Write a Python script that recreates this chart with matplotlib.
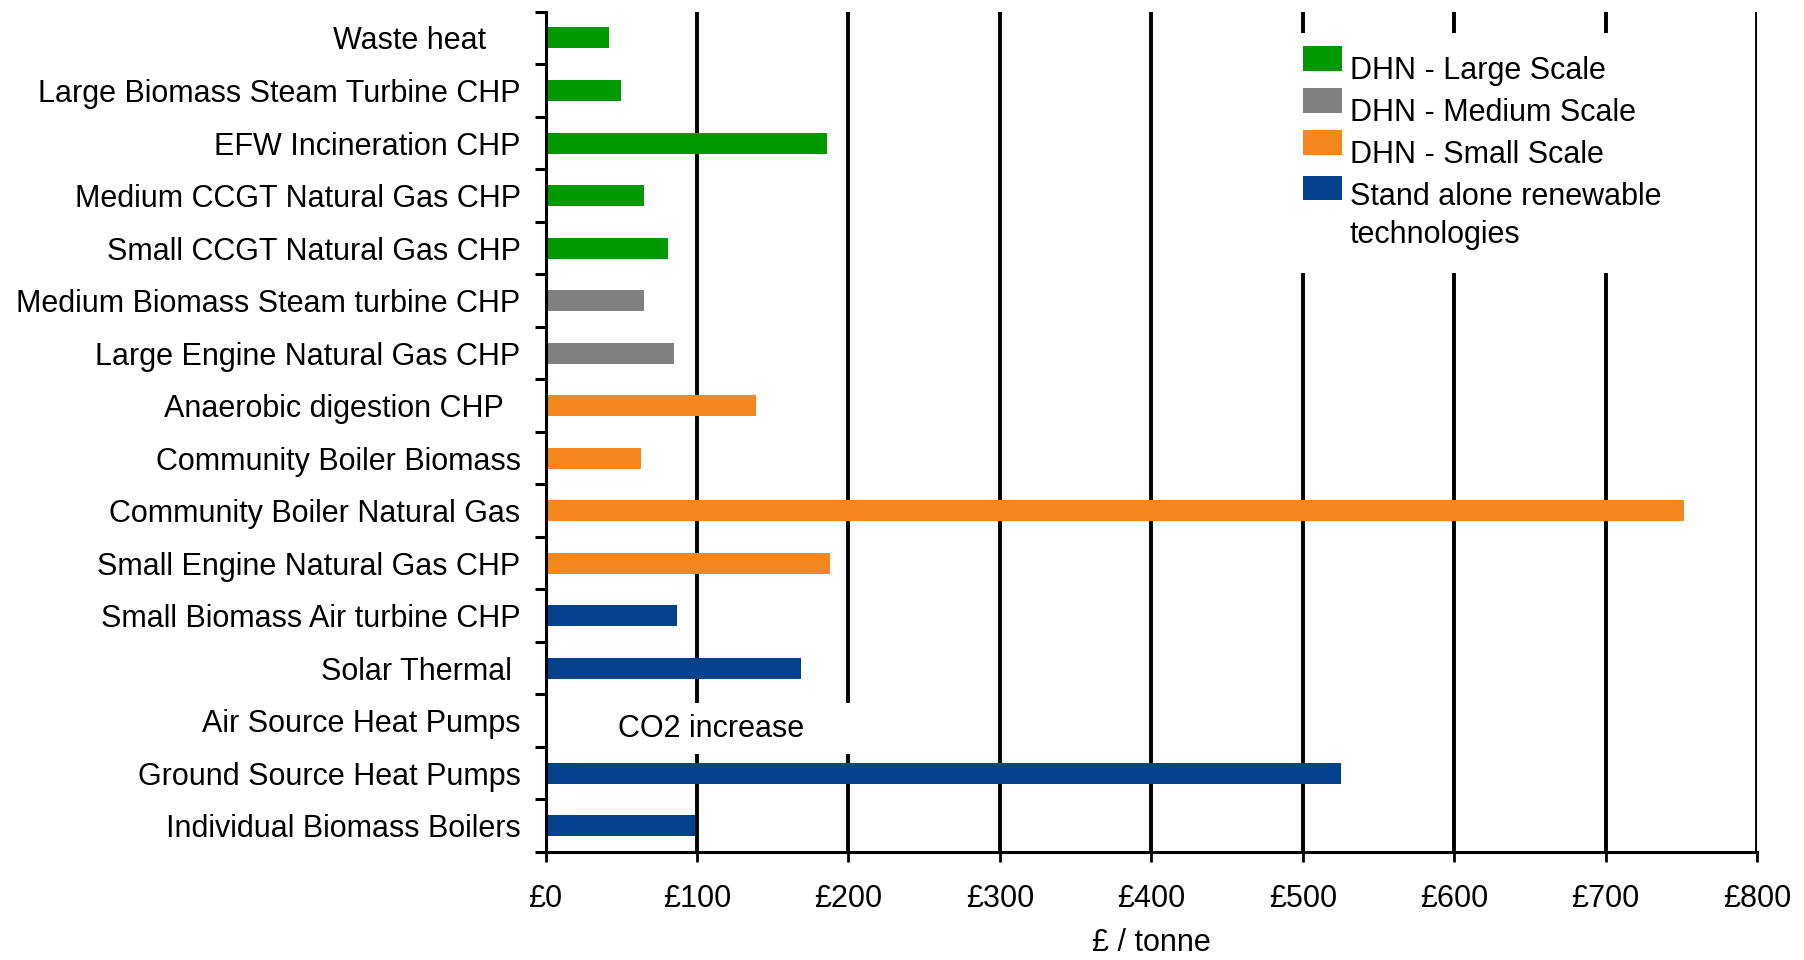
import numpy as np
import matplotlib
matplotlib.use("Agg")
import matplotlib.pyplot as plt
from matplotlib.patches import Patch, Rectangle
from matplotlib.legend_handler import HandlerPatch

# cost of carbon saving by technology, £ per tonne CO2
technologies = [
    "Waste heat    ",
    "Large Biomass Steam Turbine CHP",
    "EFW Incineration CHP",
    "Medium CCGT Natural Gas CHP",
    "Small CCGT Natural Gas CHP",
    "Medium Biomass Steam turbine CHP",
    "Large Engine Natural Gas CHP",
    "Anaerobic digestion CHP  ",
    "Community Boiler Biomass",
    "Community Boiler Natural Gas",
    "Small Engine Natural Gas CHP",
    "Small Biomass Air turbine CHP",
    "Solar Thermal ",
    "Air Source Heat Pumps",
    "Ground Source Heat Pumps",
    "Individual Biomass Boilers",
]
cost_per_tonne = [42, 50, 186, 65, 81, 65, 85, 139, 63, 752, 188, 87, 169, np.nan, 525, 99]
group = ["large", "large", "large", "large", "large", "medium", "medium",
         "small", "small", "small", "small",
         "standalone", "standalone", "standalone", "standalone", "standalone"]

group_names = {
    "large": "DHN - Large Scale",
    "medium": "DHN - Medium Scale",
    "small": "DHN - Small Scale",
    "standalone": "Stand alone renewable\ntechnologies",
}
group_colors = {
    "large": "#009900",
    "medium": "#808080",
    "small": "#F58720",
    "standalone": "#04428E",
}
x_ticks = np.arange(0, 801, 100)
x_ticklabels = [f"£{v}" for v in x_ticks]

FS = 22
plt.rcParams["font.family"] = ["Liberation Sans", "DejaVu Sans"]
plt.rcParams["font.size"] = FS

fig = plt.figure(figsize=(18.04, 9.6), dpi=100)
ax = fig.add_axes([0.3024, 0.1125, 0.6716, 0.8753])

ypos = np.arange(len(technologies))
colors = [group_colors[g] for g in group]
ax.barh(ypos, np.nan_to_num(cost_per_tonne), height=0.4, color=colors, zorder=2)

ax.set_xlim(0, 800)
ax.set_ylim(len(technologies) - 0.5, -0.5)

ax.set_xticks(x_ticks)
ax.set_xticklabels(x_ticklabels)
ax.set_yticks(ypos)
ax.set_yticklabels(technologies)
ax.set_yticks(np.arange(-0.5, len(technologies)), minor=True)

ax.tick_params(axis="y", which="major", length=0, pad=18)
ax.tick_params(axis="y", which="minor", length=8, width=2.2, direction="out")
ax.tick_params(axis="x", which="major", length=7, width=2, direction="out", pad=16)

ax.set_axisbelow(True)
ax.xaxis.grid(True, color="black", linewidth=2.8)
ax.yaxis.grid(False)

for side in ["top", "right"]:
    ax.spines[side].set_visible(False)
for side in ["left", "bottom"]:
    ax.spines[side].set_linewidth(2.2)
    ax.spines[side].set_color("black")

ax.set_xlabel("£ / tonne", labelpad=10)

# Air source heat pumps have no bar: they increase emissions
ax.text(48, technologies.index("Air Source Heat Pumps") + 0.15, "CO2 increase      ",
        ha="left", va="center", fontsize=FS, zorder=3,
        bbox=dict(boxstyle="square,pad=0.35", facecolor="white", edgecolor="none"))


def raised_patch(lift):
    # legend swatch sitting a little above the label's centre
    def make(legend, orig_handle, xdescent, ydescent, width, height, fontsize):
        return Rectangle((-xdescent, -ydescent + lift), width, height)
    return HandlerPatch(patch_func=make)


handles = [Patch(facecolor=group_colors[k], edgecolor="none", label=group_names[k])
           for k in group_names]
lifts = [7, 7, 7, 20.5]
leg = ax.legend(handles=handles, loc="upper left",
                handler_map={h: raised_patch(l) for h, l in zip(handles, lifts)},
                bbox_to_anchor=(1280 / 1804, 1 - 33 / 960), bbox_transform=fig.transFigure,
                frameon=True, fancybox=False, framealpha=1, facecolor="white",
                edgecolor="none", fontsize=FS, handlelength=1.28, handleheight=0.85,
                handletextpad=0.26, labelspacing=0.39, borderpad=0.75, borderaxespad=0)
leg.get_texts()[-1].set_linespacing(1.35)
leg.set_zorder(5)

fig.savefig("out.png", dpi=100, facecolor="white")
